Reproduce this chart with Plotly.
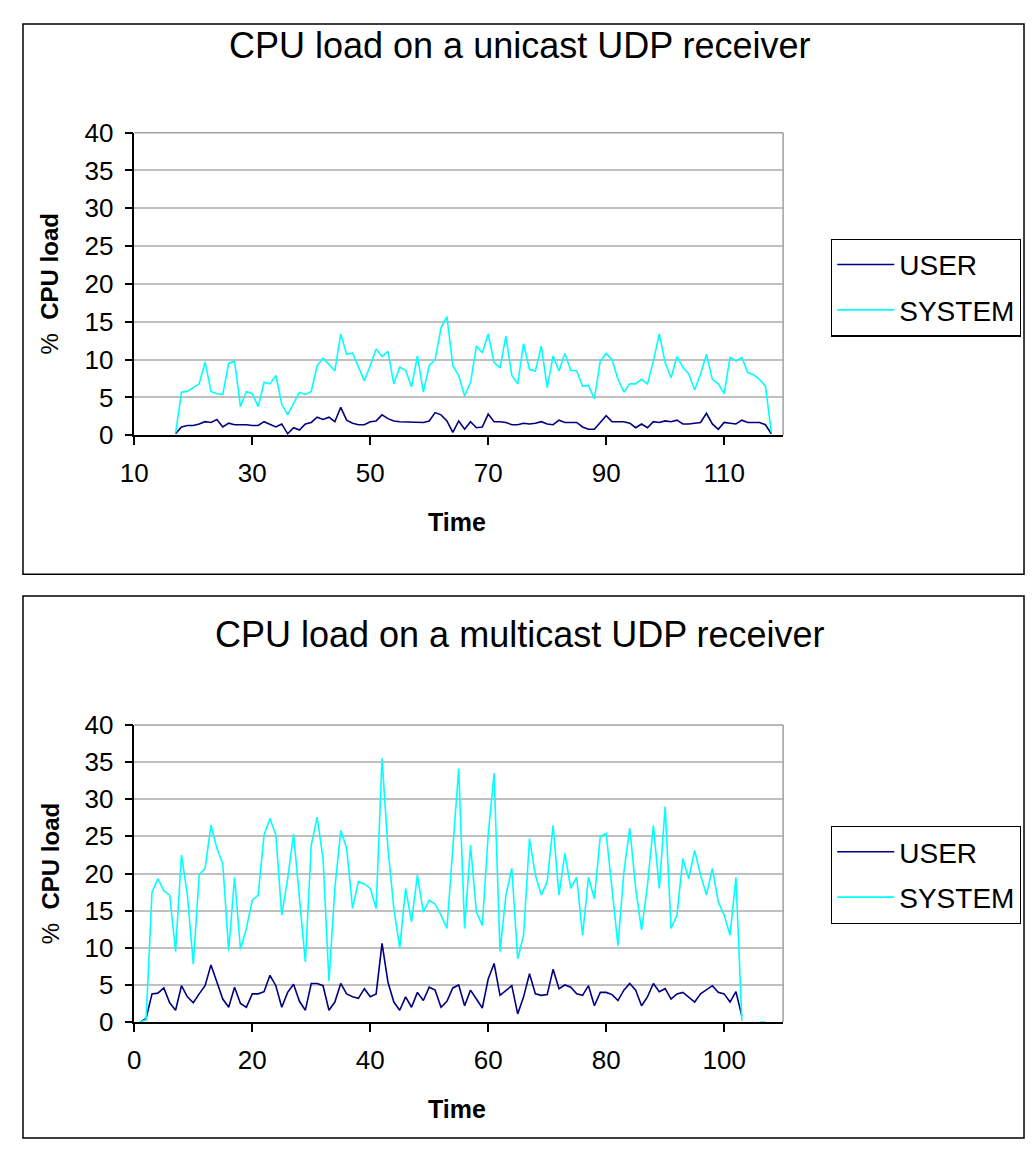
import plotly.graph_objects as go

# the page body keeps its default 8px margin, so the figure is made 16px smaller
# than the window. positions below are given in pixels of the reference picture
# and mapped through the scale/offset seen in the returned screenshots.
PAGE_W, PAGE_H = 1033, 1162
OFF = 8
W, H = PAGE_W - 2 * OFF, PAGE_H - 2 * OFF
SX, BX = 0.988, 13.6
SY, BY = 0.975, 15.4
FONT = "Liberation Sans, Arial, sans-serif"

# ---- unicast receiver (top chart) ----
uni_time = list(range(17, 119))
uni_user = [0.2, 1.1, 1.3, 1.3, 1.5, 1.8, 1.7, 2.1, 1.1, 1.6,
            1.4, 1.4, 1.4, 1.3, 1.3, 1.8, 1.5, 1.1, 1.5, 0.2,
            1.0, 0.7, 1.5, 1.7, 2.4, 2.1, 2.4, 1.8, 3.7, 2.0,
            1.6, 1.4, 1.4, 1.8, 1.9, 2.7, 2.2, 1.9, 1.8, 1.8,
            1.7, 1.7, 1.7, 1.9, 3.0, 2.7, 1.9, 0.4, 1.9, 0.8,
            1.8, 1.0, 1.1, 2.8, 1.8, 1.8, 1.7, 1.4, 1.4, 1.6,
            1.5, 1.6, 1.8, 1.5, 1.4, 2.0, 1.7, 1.7, 1.7, 1.1,
            0.8, 0.8, 1.7, 2.6, 1.8, 1.8, 1.8, 1.6, 1.0, 1.5,
            1.0, 1.8, 1.7, 1.9, 1.8, 2.0, 1.5, 1.5, 1.6, 1.7,
            2.9, 1.5, 0.8, 1.7, 1.6, 1.5, 2.0, 1.7, 1.7, 1.7,
            1.4, 0.2]
uni_system = [0.3, 5.7, 5.8, 6.3, 6.8, 9.7, 5.8, 5.5, 5.4, 9.5,
              9.8, 3.8, 5.8, 5.5, 3.8, 7.0, 6.8, 7.9, 4.1, 2.7,
              4.1, 5.7, 5.4, 5.8, 9.2, 10.2, 9.4, 8.5, 13.4, 10.7,
              10.9, 9.0, 7.2, 9.2, 11.4, 10.4, 11.1, 6.8, 9.0, 8.6,
              6.4, 10.5, 5.7, 9.2, 10.0, 14.2, 15.7, 9.2, 7.9, 5.2,
              7.0, 11.8, 10.9, 13.4, 9.6, 8.9, 13.1, 7.9, 6.8, 12.1,
              8.7, 8.5, 11.8, 6.3, 10.5, 8.5, 10.8, 8.6, 8.5, 6.5,
              6.6, 4.8, 9.8, 10.8, 10.0, 7.4, 5.7, 6.8, 6.8, 7.4,
              6.8, 9.8, 13.4, 9.6, 7.6, 10.4, 9.0, 8.1, 6.0, 8.1,
              10.7, 7.4, 6.8, 5.5, 10.3, 9.8, 10.3, 8.3, 8.0, 7.4,
              6.5, 0.4]

# ---- multicast receiver (bottom chart) ----
multi_time = list(range(1, 108))
multi_user = [0, 0.5, 3.8, 3.9, 4.6, 2.6, 1.6, 4.9, 3.4, 2.6,
              3.8, 4.9, 7.7, 5.4, 3.1, 2.0, 4.7, 2.5, 2.0, 3.8,
              3.8, 4.1, 6.3, 4.9, 2.0, 4.0, 5.1, 2.8, 1.6, 5.2,
              5.2, 4.9, 1.6, 2.7, 5.2, 3.8, 3.4, 3.2, 4.5, 3.4,
              3.8, 10.6, 5.4, 2.7, 1.6, 3.4, 2.0, 4.0, 2.9, 4.7,
              4.3, 2.0, 2.8, 4.6, 5.0, 2.2, 4.3, 3.1, 1.9, 5.8,
              7.9, 3.6, 4.3, 4.9, 1.1, 3.4, 6.5, 3.8, 3.6, 3.7,
              7.1, 4.5, 5.0, 4.7, 3.8, 3.6, 4.9, 2.2, 4.0, 4.0,
              3.7, 2.9, 4.3, 5.2, 4.3, 2.2, 3.4, 5.2, 4.1, 4.5,
              3.1, 3.8, 4.0, 3.4, 2.7, 3.8, 4.4, 4.9, 4.0, 3.8,
              2.7, 4.1, 0.8, None, None, None, None]
multi_system = [0, 0.3, 17.5, 19.3, 17.7, 17.1, 9.5, 22.5, 17.1, 7.8,
                19.8, 20.7, 26.5, 23.4, 21.3, 9.6, 19.5, 9.8, 12.6, 16.4,
                17.1, 25.2, 27.4, 25.2, 14.4, 19.3, 25.3, 16.2, 8.1, 23.8,
                27.6, 22.0, 5.5, 18.0, 25.8, 23.4, 15.3, 18.9, 18.6, 18.0,
                15.3, 35.5, 23.4, 15.3, 10.0, 18.0, 13.5, 19.8, 14.8, 16.4,
                15.9, 14.4, 12.6, 23.4, 34.1, 12.6, 23.8, 14.8, 13.0, 25.2,
                33.5, 9.5, 17.1, 20.7, 8.5, 11.7, 24.7, 19.8, 17.1, 18.9,
                26.5, 17.1, 22.7, 18.0, 19.5, 11.7, 19.5, 16.6, 25.0, 25.4,
                18.0, 10.3, 20.2, 26.1, 18.0, 12.4, 18.4, 26.5, 18.0, 29.0,
                12.6, 14.4, 22.0, 19.3, 23.1, 19.8, 17.1, 20.7, 16.2, 14.4,
                11.7, 19.5, 0.2, None, None, 0, 0]

titles = ["CPU load on a unicast UDP receiver", "CPU load on a multicast UDP receiver"]
USER_COLOR = "#000080"
SYSTEM_COLOR = "#00FFFF"


def px(x):
    return ((x - BX) / SX - OFF) / W


def py(y):
    return 1 - ((y - BY) / SY - OFF) / H


fig = go.Figure()

fig.add_trace(go.Scatter(x=uni_time, y=uni_user, name="USER", mode="lines", legendgroup="u1",
                         line=dict(color=USER_COLOR, width=1.6), xaxis="x", yaxis="y", legend="legend"))
fig.add_trace(go.Scatter(x=uni_time, y=uni_system, name="SYSTEM", mode="lines", legendgroup="s1",
                         line=dict(color=SYSTEM_COLOR, width=1.6), xaxis="x", yaxis="y", legend="legend"))
fig.add_trace(go.Scatter(x=multi_time, y=multi_user, name="USER", mode="lines", legendgroup="u2",
                         line=dict(color=USER_COLOR, width=1.6), xaxis="x2", yaxis="y2", legend="legend2"))
fig.add_trace(go.Scatter(x=multi_time, y=multi_system, name="SYSTEM", mode="lines", legendgroup="s2",
                         line=dict(color=SYSTEM_COLOR, width=1.6), xaxis="x2", yaxis="y2", legend="legend2"))

xcommon = dict(showgrid=False, zeroline=False, showline=True, linecolor="black", linewidth=1.5,
               ticks="outside", ticklen=8, tickcolor="black", tickwidth=1.5, dtick=20,
               tickfont=dict(family=FONT, size=26, color="black"), ticklabelstandoff=6)
ycommon = dict(range=[0, 40], dtick=5, showgrid=True, gridcolor="#c0c0c0", gridwidth=1.5,
               zeroline=False, showline=True, linecolor="black", linewidth=1.5,
               ticks="outside", ticklen=8, tickcolor="black", tickwidth=1.5,
               tickfont=dict(family=FONT, size=26, color="black"), ticklabelstandoff=6)

xdom = [px(134), px(784)]
fig.update_layout(
    xaxis=dict(domain=xdom, range=[10, 120], tick0=10, anchor="y", **xcommon),
    yaxis=dict(domain=[py(436), py(133)], anchor="x", **ycommon),
    xaxis2=dict(domain=xdom, range=[0, 110], tick0=0, anchor="y2", **xcommon),
    yaxis2=dict(domain=[py(1023.5), py(726)], anchor="x2", **ycommon),
)

legend_style = dict(xanchor="left", yanchor="top", bordercolor="black", borderwidth=1.2,
                    bgcolor="white", font=dict(family=FONT, size=28, color="black"),
                    tracegroupgap=6, itemwidth=57)
fig.update_layout(
    legend=dict(x=px(832), y=py(239), **legend_style),
    legend2=dict(x=px(832), y=py(827), **legend_style),
)

shapes = []
# outer chart frames
for y_top, y_bot in [(1 - 1 / H, py(575)), (py(597), 1 / H)]:
    shapes.append(dict(type="rect", xref="paper", yref="paper", x0=1 / W, x1=1 - 1 / W,
                       y0=y_bot, y1=y_top, line=dict(color="black", width=1.5)))
# gray plot area border (top and right)
for xa, ya in [("x", "y"), ("x2", "y2")]:
    shapes.append(dict(type="line", xref=xa + " domain", yref=ya + " domain",
                       x0=0, x1=1, y0=1, y1=1, line=dict(color="#a0a0a0", width=1.5)))
    shapes.append(dict(type="line", xref=xa + " domain", yref=ya + " domain",
                       x0=1, x1=1, y0=0, y1=1, line=dict(color="#a0a0a0", width=1.5)))
fig.update_layout(shapes=shapes)

annotations = []
for title, ty, ymid, xty in [(titles[0], 46, 284.5, 523), (titles[1], 635, 875, 1111)]:
    annotations.append(dict(text=title, x=px(520), y=py(ty), xref="paper", yref="paper",
                            xanchor="center", yanchor="middle", showarrow=False,
                            font=dict(family=FONT, size=36, color="black")))
    annotations.append(dict(text="%  <b>CPU load</b>", x=px(50), y=py(ymid), xref="paper", yref="paper",
                            xanchor="center", yanchor="middle", textangle=-90, showarrow=False,
                            font=dict(family=FONT, size=24, color="black")))
    annotations.append(dict(text="<b>Time</b>", x=px(457), y=py(xty), xref="paper", yref="paper",
                            xanchor="center", yanchor="middle", showarrow=False,
                            font=dict(family=FONT, size=25, color="black")))
fig.update_layout(annotations=annotations)

fig.update_layout(width=W, height=H, margin=dict(l=0, r=0, t=0, b=0),
                  paper_bgcolor="white", plot_bgcolor="white", showlegend=True)

fig.write_html("out.html")
